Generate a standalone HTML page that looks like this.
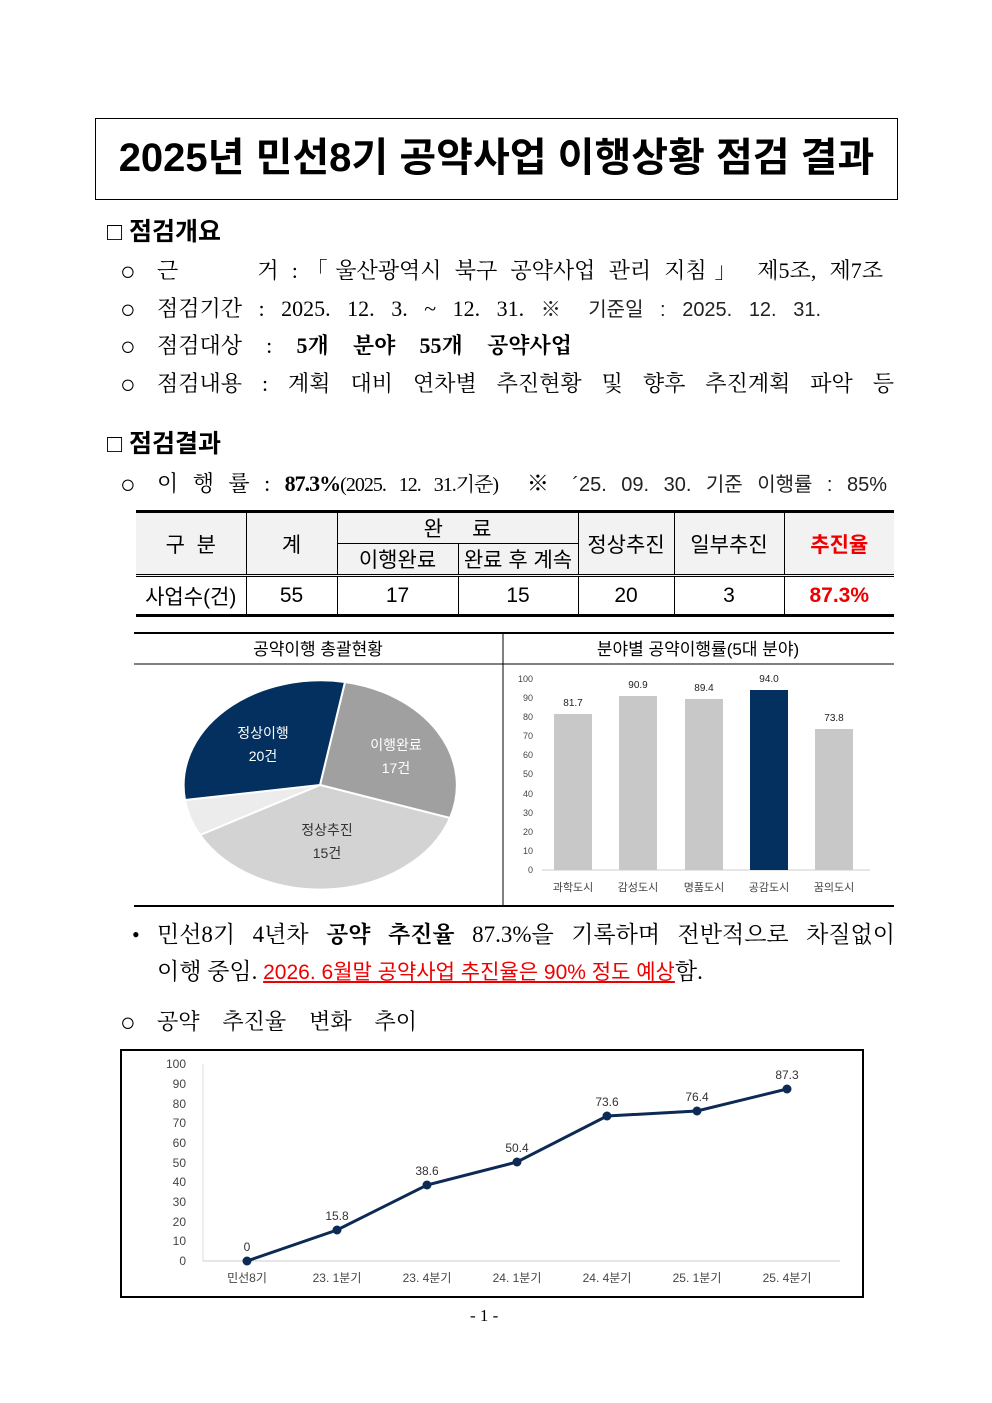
<!DOCTYPE html>
<html><head><meta charset="utf-8"><style>
*{margin:0;padding:0;box-sizing:border-box}
body{width:992px;height:1403px;background:#fff;position:relative;overflow:hidden;font-family:"Liberation Serif","Noto Serif CJK SC",serif;color:#000}
.a{position:absolute;white-space:nowrap}
.j{position:absolute;text-align:justify;text-align-last:justify;white-space:nowrap;font-size:22px;line-height:28px}
.o{position:absolute;font-size:26px;line-height:28px;font-family:"Liberation Sans","Noto Sans CJK KR",sans-serif}
.s{font-family:"Liberation Sans","Noto Sans CJK KR",sans-serif}
.b{font-weight:bold}
table{border-collapse:collapse;font-family:"Liberation Sans","Noto Sans CJK KR",sans-serif}
</style></head><body>
<div class="a" style="left:95px;top:118px;width:803px;height:82px;border:1.5px solid #000"></div>
<div class="a s b" style="left:95px;top:130px;width:803px;text-align:center;font-size:40px;line-height:56px">2025년 민선8기 공약사업 이행상황 점검 결과</div>

<div class="a s b" style="left:107px;top:215px;font-size:25px;line-height:34px">□ 점검개요</div>
<div class="o" style="left:120px;top:257px">○</div>
<div class="j" style="left:157px;top:257px;width:726px">근 &nbsp; &nbsp; &nbsp;거 :「울산광역시 북구 공약사업 관리 지침」 제5조, 제7조</div>
<div class="o" style="left:120px;top:295px">○</div>
<div class="j" style="left:157px;top:295px;width:664px">점검기간 : 2025. 12. 3. ~ 12. 31. <span class="s" style="font-size:20px;color:#222">※ 기준일 : 2025. 12. 31.</span></div>
<div class="o" style="left:120px;top:332px">○</div>
<div class="j" style="left:157px;top:332px;width:415px">점검대상 : <b>5개 분야 55개 공약사업</b></div>
<div class="o" style="left:120px;top:370px">○</div>
<div class="j" style="left:157px;top:370px;width:737px">점검내용 : 계획 대비 연차별 추진현황 및 향후 추진계획 파악 등</div>

<div class="a s b" style="left:107px;top:427px;font-size:25px;line-height:34px">□ 점검결과</div>
<div class="o" style="left:120px;top:470px">○</div>
<div class="j" style="left:157px;top:470px;width:730px">이 행 률 : <b style="letter-spacing:-1px">87.3%</b><span style="letter-spacing:-1px;font-size:20px">(2025. 12. 31.기준)</span> &nbsp;※ <span class="s" style="font-size:20px;color:#222">´25. 09. 30. 기준 이행률 : 85%</span></div>

<table class="a" style="left:136px;top:510px;width:758px;font-size:21px;text-align:center">
<colgroup><col style="width:110px"><col style="width:91px"><col style="width:121px"><col style="width:120px"><col style="width:96px"><col style="width:110px"><col style="width:110px"></colgroup>
<tr style="height:32px;background:#f2f2f2"><td rowspan="2" style="border-top:3px solid #000;border-right:1px solid #000;border-bottom:3px double #000">구 &nbsp;분</td><td rowspan="2" style="border-top:3px solid #000;border-right:1px solid #000;border-bottom:3px double #000">계</td><td colspan="2" style="border-top:3px solid #000;border-right:1px solid #000;border-bottom:1px solid #000">완 &nbsp; &nbsp; 료</td><td rowspan="2" style="border-top:3px solid #000;border-right:1px solid #000;border-bottom:3px double #000">정상추진</td><td rowspan="2" style="border-top:3px solid #000;border-right:1px solid #000;border-bottom:3px double #000">일부추진</td><td rowspan="2" class="b" style="border-top:3px solid #000;border-bottom:3px double #000;color:#e00">추진율</td></tr>
<tr style="height:32px;background:#f2f2f2"><td style="border-right:1px solid #000;border-bottom:3px double #000">이행완료</td><td style="border-right:1px solid #000;border-bottom:3px double #000">완료 후 계속</td></tr>
<tr style="height:40px;font-size:21px"><td style="border-right:1px solid #000;border-bottom:3px solid #000">사업수(건)</td><td style="border-right:1px solid #000;border-bottom:3px solid #000">55</td><td style="border-right:1px solid #000;border-bottom:3px solid #000">17</td><td style="border-right:1px solid #000;border-bottom:3px solid #000">15</td><td style="border-right:1px solid #000;border-bottom:3px solid #000">20</td><td style="border-right:1px solid #000;border-bottom:3px solid #000">3</td><td class="b" style="border-bottom:3px solid #000;color:#e00">87.3%</td></tr>
</table>

<svg class="a" style="left:0;top:0" width="992" height="1403" font-family="Liberation Sans, Noto Sans CJK KR, sans-serif">
<line x1="134" y1="633" x2="894" y2="633" stroke="#000" stroke-width="2"/>
<line x1="134" y1="664" x2="894" y2="664" stroke="#000" stroke-width="1"/>
<line x1="134" y1="906" x2="894" y2="906" stroke="#000" stroke-width="2"/>
<line x1="503" y1="633" x2="503" y2="906" stroke="#000" stroke-width="1"/>
<text x="318" y="655" font-size="17" text-anchor="middle">공약이행 총괄현황</text>
<text x="698" y="655" font-size="17" text-anchor="middle">분야별 공약이행률(5대 분야)</text>
<g stroke="#fff" stroke-width="2">
<path d="M320,785 L345,682 A137,105 0 0 1 450,818 Z" fill="#a0a0a0"/>
<path d="M320,785 L450,818 A137,105 0 0 1 200,835 Z" fill="#d3d3d3"/>
<path d="M320,785 L200,835 A137,105 0 0 1 185,800 Z" fill="#ececec"/>
<path d="M320,785 L185,800 A137,105 0 0 1 345,682 Z" fill="#03305e"/>
</g>
<g font-size="14" text-anchor="middle">
<text x="263" y="738" fill="#fff">정상이행</text><text x="263" y="761" fill="#fff">20건</text>
<text x="396" y="750" fill="#fff">이행완료</text><text x="396" y="773" fill="#fff">17건</text>
<text x="327" y="835" fill="#333">정상추진</text><text x="327" y="858" fill="#333">15건</text>
</g>
<g font-size="9" fill="#444" text-anchor="end">
<text x="533" y="682">100</text><text x="533" y="701">90</text><text x="533" y="720">80</text><text x="533" y="739">70</text><text x="533" y="758">60</text><text x="533" y="777">50</text><text x="533" y="797">40</text><text x="533" y="816">30</text><text x="533" y="835">20</text><text x="533" y="854">10</text><text x="533" y="873">0</text>
</g>
<line x1="542" y1="870" x2="870" y2="870" stroke="#ccc"/>
<rect x="554" y="714" width="38" height="156" fill="#c8c8c8"/>
<rect x="619" y="696" width="38" height="174" fill="#c8c8c8"/>
<rect x="685" y="699" width="38" height="171" fill="#c8c8c8"/>
<rect x="750" y="690" width="38" height="180" fill="#03305e"/>
<rect x="815" y="729" width="38" height="141" fill="#c8c8c8"/>
<g font-size="10" fill="#222" text-anchor="middle">
<text x="573" y="706">81.7</text><text x="638" y="688">90.9</text><text x="704" y="691">89.4</text><text x="769" y="682">94.0</text><text x="834" y="721">73.8</text>
</g>
<g font-size="11" fill="#444" text-anchor="middle">
<text x="573" y="891">과학도시</text><text x="638" y="891">감성도시</text><text x="704" y="891">명품도시</text><text x="769" y="891">공감도시</text><text x="834" y="891">꿈의도시</text>
</g>
<rect x="121" y="1050" width="742" height="247" fill="none" stroke="#000" stroke-width="2"/>
<line x1="203" y1="1064" x2="203" y2="1261" stroke="#ddd"/>
<line x1="203" y1="1261" x2="840" y2="1261" stroke="#ccc"/>
<g font-size="12" fill="#444" text-anchor="end">
<text x="186" y="1068">100</text><text x="186" y="1088">90</text><text x="186" y="1108">80</text><text x="186" y="1127">70</text><text x="186" y="1147">60</text><text x="186" y="1167">50</text><text x="186" y="1186">40</text><text x="186" y="1206">30</text><text x="186" y="1226">20</text><text x="186" y="1245">10</text><text x="186" y="1265">0</text>
</g>
<polyline points="247,1261 337,1230 427,1185 517,1162 607,1116 697,1111 787,1089" fill="none" stroke="#0d2a55" stroke-width="3"/>
<g fill="#0d2a55"><circle cx="247" cy="1261" r="4.5"/><circle cx="337" cy="1230" r="4.5"/><circle cx="427" cy="1185" r="4.5"/><circle cx="517" cy="1162" r="4.5"/><circle cx="607" cy="1116" r="4.5"/><circle cx="697" cy="1111" r="4.5"/><circle cx="787" cy="1089" r="4.5"/></g>
<g font-size="12" fill="#333" text-anchor="middle">
<text x="247" y="1251">0</text><text x="337" y="1220">15.8</text><text x="427" y="1175">38.6</text><text x="517" y="1152">50.4</text><text x="607" y="1106">73.6</text><text x="697" y="1101">76.4</text><text x="787" y="1079">87.3</text>
</g>
<g font-size="12" fill="#444" text-anchor="middle">
<text x="247" y="1282">민선8기</text><text x="337" y="1282">23. 1분기</text><text x="427" y="1282">23. 4분기</text><text x="517" y="1282">24. 1분기</text><text x="607" y="1282">24. 4분기</text><text x="697" y="1282">25. 1분기</text><text x="787" y="1282">25. 4분기</text>
</g>
</svg>

<div class="a" style="left:132px;top:921px;font-size:22px;line-height:28px">•</div>
<div class="j" style="left:157px;top:921px;width:738px;font-size:23px">민선8기 4년차 <b>공약 추진율</b> 87.3%을 기록하며 전반적으로 차질없이</div>
<div class="a" style="left:157px;top:958px;font-size:23px;line-height:28px">이행 중임. <span class="s" style="color:#e00;text-decoration:underline;font-size:21px">2026. 6월말 공약사업 추진율은 90% 정도 예상</span>함.</div>
<div class="o" style="left:120px;top:1008px">○</div>
<div class="j" style="left:157px;top:1008px;width:260px">공약 추진율 변화 추이</div>
<div class="a" style="left:470px;top:1305px;font-size:17px;line-height:22px">- 1 -</div>
</body></html>
